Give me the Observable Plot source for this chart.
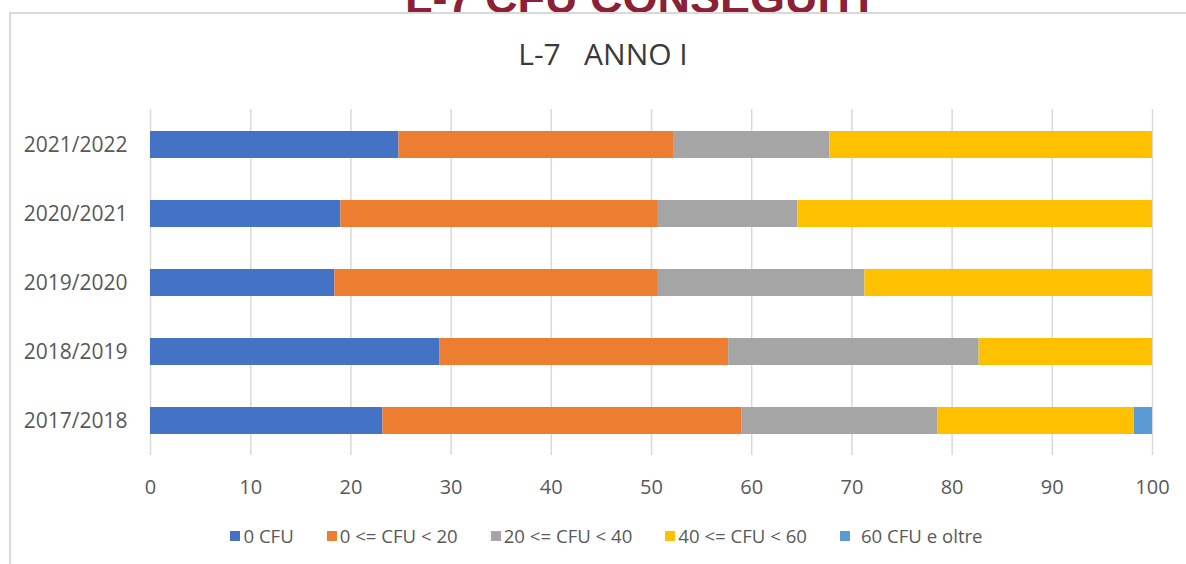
<!DOCTYPE html>
<html><head><meta charset="utf-8">
<script src="https://cdn.jsdelivr.net/npm/d3@7"></script>
<script src="https://cdn.jsdelivr.net/npm/@observablehq/plot@0.6"></script>
<style>
body{margin:0;background:#fff;}
#wrap{position:relative;width:1186px;height:564px;overflow:hidden;background:#fff;font-family:"Open Sans",sans-serif;}
#header{position:absolute;left:0;width:1275px;top:-25px;text-align:center;font:bold 45px/45px "Liberation Sans",Arial,sans-serif;color:#8a2135;white-space:nowrap;}
#frame{position:absolute;left:9px;top:12px;width:1200px;height:600px;border-left:2px solid #d9d9d9;border-top:2px solid #d9d9d9;background:#fff;}
#title{position:absolute;left:0;width:1206px;top:39px;text-align:center;font:30px/30px "Open Sans",sans-serif;color:#3a3a3a;white-space:pre;}
#chart{position:absolute;left:0;top:0;}
#legend{position:absolute;left:0;width:1213px;top:524px;height:24px;display:flex;justify-content:center;align-items:center;gap:33px;font:18.6px/24px "Open Sans",sans-serif;color:#595959;white-space:pre;}
#legend .item{display:flex;align-items:center;gap:3px;}
#legend .sw{width:10px;height:10px;display:inline-block;}
</style>
</head><body>
<div id="wrap">
  <div id="header"></div>
  <div id="frame"></div>
  <div id="title"></div>
  <div id="chart"></div>
  <div id="legend"></div>
</div>
<script>
const pageHeader = "L-7 CFU CONSEGUITI";
const chartTitle = "L-7   ANNO I";
const years = ["2021/2022","2020/2021","2019/2020","2018/2019","2017/2018"];
const seriesNames = ["0 CFU","0 <= CFU < 20","20 <= CFU < 40","40 <= CFU < 60","60 CFU e oltre"];
const cfu0      = [24.8, 19.0, 18.4, 28.9, 23.2];
const cfu0to20  = [27.4, 31.6, 32.2, 28.8, 35.8];
const cfu20to40 = [15.6, 14.0, 20.7, 25.0, 19.6];
const cfu40to60 = [32.2, 35.4, 28.7, 17.3, 19.6];
const cfu60plus = [0, 0, 0, 0, 1.8];
const xTicks = [0,10,20,30,40,50,60,70,80,90,100];
const colors = ["#4472C4","#ED7D31","#A5A5A5","#FFC000","#5B9BD5"];

const seriesValues = [cfu0, cfu0to20, cfu20to40, cfu40to60, cfu60plus];
const rows = [];
seriesNames.forEach((s, si) => {
  years.forEach((y, yi) => rows.push({year: y, series: s, value: seriesValues[si][yi]}));
});

document.getElementById("header").textContent = pageHeader;
document.getElementById("title").textContent = chartTitle;

const chart = Plot.plot({
  width: 1186, height: 564,
  marginLeft: 150, marginRight: 34, marginTop: 109, marginBottom: 109,
  style: {fontFamily: "'Open Sans', sans-serif", color: "#595959", background: "none"},
  x: {domain: [0, 100]},
  y: {domain: years, paddingInner: 0.61, paddingOuter: 0.303},
  color: {domain: seriesNames, range: colors},
  marks: [
    Plot.ruleX(xTicks, {stroke: "#d9d9d9", strokeWidth: 1.5, strokeOpacity: 1}),
    Plot.barX(rows, Plot.stackX({x: "value", y: "year", fill: "series", order: null})),
    Plot.axisX({ticks: xTicks, tickSize: 0, tickPadding: 24, fontSize: 20, label: null, tickFormat: d => String(d), fill: "#595959"}),
    Plot.axisY({tickSize: 0, tickPadding: 23, fontSize: 21, label: null, fill: "#595959"})
  ]
});
document.getElementById("chart").appendChild(chart);

const legend = document.getElementById("legend");
seriesNames.forEach((s, i) => {
  const item = document.createElement("span");
  item.className = "item";
  const sw = document.createElement("span");
  sw.className = "sw";
  sw.style.background = colors[i];
  const lab = document.createElement("span");
  lab.textContent = s;
  if (i === seriesNames.length - 1) lab.style.marginLeft = "8px";
  item.appendChild(sw); item.appendChild(lab);
  legend.appendChild(item);
});
</script>
</body></html>
